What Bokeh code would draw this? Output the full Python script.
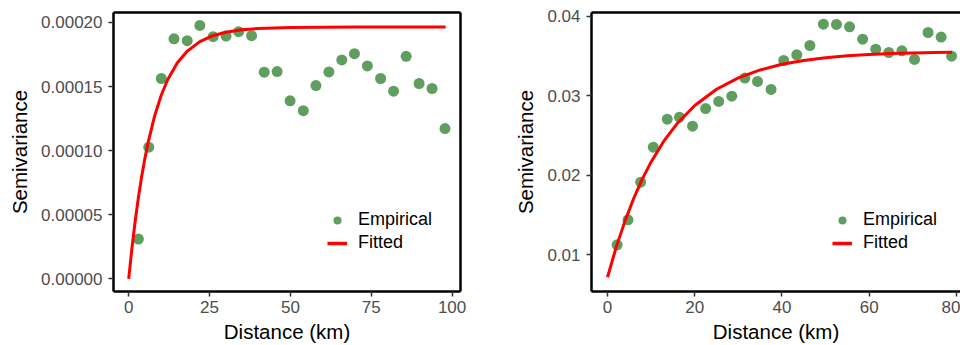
from bokeh.plotting import figure
from bokeh.layouts import row
from bokeh.models import Range1d, LinearAxis, Legend, LegendItem, FixedTicker, NumeralTickFormatter
from bokeh.embed import file_html
from bokeh.resources import INLINE

# ---- data ----
left_dist = [3.0, 6.2, 10.1, 14.0, 18.1, 22.0, 26.1, 30.1, 34.0, 38.0, 41.9, 45.9, 49.9,
             54.0, 57.9, 61.9, 65.9, 69.8, 73.8, 77.9, 81.9, 85.8, 89.8, 93.8, 97.8]
left_gamma = [0.0000310, 0.0001027, 0.0001563, 0.0001873, 0.0001858, 0.0001977, 0.0001889,
              0.0001894, 0.0001928, 0.0001897, 0.0001612, 0.0001617, 0.0001389, 0.0001312,
              0.0001508, 0.0001614, 0.0001708, 0.0001757, 0.0001661, 0.0001563, 0.0001464,
              0.0001736, 0.0001524, 0.0001485, 0.0001172]
left_fit_dist = [0, 1, 2, 3, 4, 5, 6, 8, 10, 12, 15, 18, 22, 26, 30, 35, 40, 50, 60, 70, 80, 90, 98]
left_fit_gamma = [0.0, 0.0000239, 0.0000449, 0.0000634, 0.0000796, 0.0000938, 0.0001063,
                  0.0001269, 0.0001428, 0.0001551, 0.0001684, 0.0001774, 0.0001851, 0.0001897,
                  0.0001924, 0.0001943, 0.0001953, 0.0001961, 0.0001963, 0.0001964, 0.0001964,
                  0.0001964, 0.0001964]

right_dist = [2.2, 4.7, 7.6, 10.5, 13.7, 16.5, 19.5, 22.5, 25.5, 28.5, 31.5, 34.4, 37.5, 40.4,
              43.4, 46.4, 49.5, 52.5, 55.5, 58.5, 61.5, 64.5, 67.5, 70.4, 73.5, 76.5, 78.9]
right_gamma = [0.01122, 0.01437, 0.01912, 0.02353, 0.02706, 0.02731, 0.02618, 0.02840, 0.02929,
               0.02996, 0.03223, 0.03181, 0.03080, 0.03445, 0.03517, 0.03634, 0.03903, 0.03899,
               0.03870, 0.03714, 0.03588, 0.03546, 0.03567, 0.03458, 0.03798, 0.03740, 0.03500]
right_fit_dist = [0, 2, 4, 6, 8, 10, 13, 16, 20, 25, 30, 35, 40, 45, 50, 55, 60, 65, 70, 75, 79]
right_fit_gamma = [0.00714, 0.01093, 0.01421, 0.01706, 0.01953, 0.02167, 0.02436, 0.02652,
                   0.02878, 0.03083, 0.03226, 0.03326, 0.03397, 0.03446, 0.03480, 0.03504,
                   0.03521, 0.03533, 0.03541, 0.03547, 0.03550]

left_xticks = [0, 25, 50, 75, 100]
left_yticks = [0.0, 0.00005, 0.0001, 0.00015, 0.0002]
right_xticks = [0, 20, 40, 60, 80]
right_yticks = [0.01, 0.02, 0.03, 0.04]

FONT = "Liberation Sans"
GREEN = "#5f9e5f"
RED = "#ff0000"


def panel(width, mbl, mbr, xr, yr, xticks, yticks, yfmt, xs, ys, fx, fy, legend_loc, draw_right):
    p = figure(width=width, height=345, output_backend="svg", toolbar_location=None,
               x_range=Range1d(*xr), y_range=Range1d(*yr),
               min_border_left=mbl, min_border_right=mbr, min_border_top=12, min_border_bottom=54)
    p.outline_line_color = None
    p.grid.visible = False
    p.background_fill_color = "white"
    p.border_fill_color = "white"

    p.scatter(xs, ys, size=11, color=GREEN, line_color=None)
    p.line(fx, fy, line_color=RED, line_width=3)

    for ax in (p.xaxis[0], p.yaxis[0]):
        ax.axis_line_color = "black"
        ax.axis_line_width = 2.5
        ax.major_tick_line_color = "#333333"
        ax.major_tick_line_width = 1.5
        ax.major_tick_out = 5
        ax.major_tick_in = 0
        ax.minor_tick_line_color = None
        ax.major_label_text_font = FONT
        ax.major_label_text_font_size = "17px"
        ax.major_label_text_color = "#4d4d4d"
        ax.axis_label_text_font = FONT
        ax.axis_label_text_font_size = "20.5px"
        ax.axis_label_text_font_style = "normal"
        ax.axis_label_text_color = "black"
    p.xaxis[0].ticker = FixedTicker(ticks=xticks)
    p.yaxis[0].ticker = FixedTicker(ticks=yticks)
    p.yaxis[0].formatter = NumeralTickFormatter(format=yfmt)
    p.xaxis[0].major_label_standoff = 4
    p.yaxis[0].major_label_standoff = 6
    p.xaxis[0].axis_label = "Distance (km)"
    p.yaxis[0].axis_label = "Semivariance"
    p.xaxis[0].axis_label_standoff = 4
    p.yaxis[0].axis_label_standoff = 7

    sides = ["above"] + (["right"] if draw_right else [])
    for side in sides:
        a = LinearAxis(ticker=FixedTicker(ticks=[]), major_tick_line_color=None,
                       minor_tick_line_color=None, major_label_text_font_size="0px",
                       major_label_standoff=0, major_tick_out=0, major_tick_in=0,
                       axis_line_color="black", axis_line_width=2.5)
        p.add_layout(a, side)

    # legend-only renderers placed far outside the visible range
    leg_pts = p.scatter([-1000], [-1000], size=9, color=GREEN, line_color=None)
    leg_ln = p.line([-1000, -999], [-1000, -1000], line_color=RED, line_width=3.5)
    legend = Legend(items=[LegendItem(label="Empirical", renderers=[leg_pts]),
                           LegendItem(label="Fitted", renderers=[leg_ln])],
                    location=legend_loc, border_line_color=None, background_fill_alpha=0,
                    padding=0, margin=0, spacing=2, glyph_width=20, glyph_height=20,
                    label_height=20, label_standoff=11, label_text_font=FONT,
                    label_text_font_size="18px", label_text_color="black")
    p.add_layout(legend, "center")
    return p


p1 = panel(480, 113, 20, (-4.7, 102.6), (-0.0000099, 0.0002078), left_xticks, left_yticks,
           "0.00000", left_dist, left_gamma, left_fit_dist, left_fit_gamma, (214, 38), True)
p2 = panel(480, 111, 0, (-3.67, 80.94), (0.00534, 0.0405), right_xticks, right_yticks,
           "0.00", right_dist, right_gamma, right_fit_dist, right_fit_gamma, (241, 38), False)

layout = row(p1, p2)
open("out.html", "w").write(file_html(layout, INLINE))
